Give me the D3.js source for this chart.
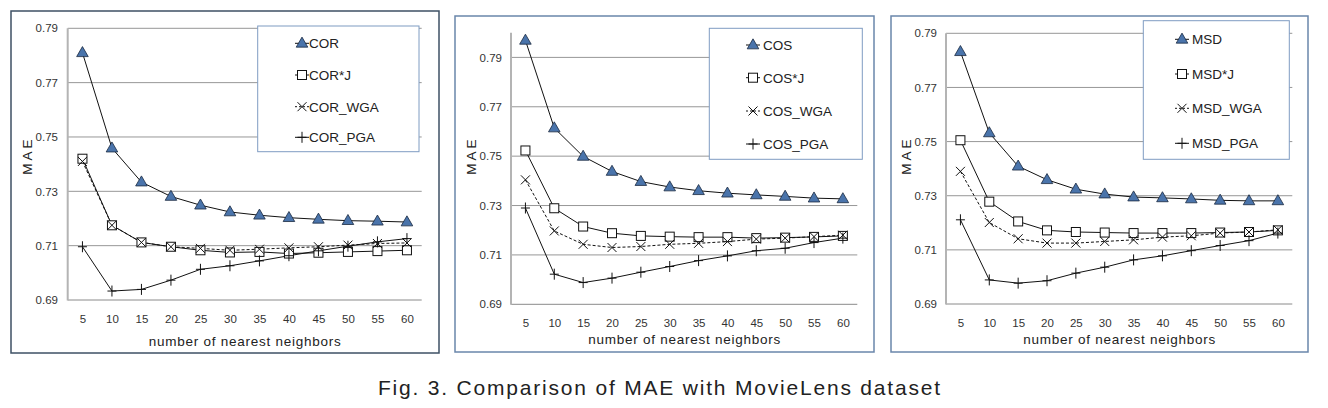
<!DOCTYPE html>
<html><head><meta charset="utf-8">
<script src="https://cdn.jsdelivr.net/npm/d3@7"></script>
<style>
html,body{margin:0;padding:0;background:#fff;}
svg{display:block;}
text{font-family:"Liberation Sans",Arial,sans-serif;}
</style></head>
<body><svg id="c" width="1328" height="408"></svg>
<script>
// ---------- data ----------
const neighbors = [5,10,15,20,25,30,35,40,45,50,55,60];
const yTickValues = [0.69,0.71,0.73,0.75,0.77,0.79];
const xAxisTitle = "number of nearest neighbors";
const yAxisTitle = "M A E";
const caption = "Fig. 3. Comparison of MAE with MovieLens dataset";

const corNames = ["COR","COR*J","COR_WGA","COR_PGA"];
const corValues    = [0.7810,0.7459,0.7334,0.7281,0.7249,0.7224,0.7212,0.7203,0.7197,0.7192,0.7190,0.7187];
const corJValues   = [0.7420,0.7175,0.7112,0.7096,0.7083,0.7075,0.7077,0.7071,0.7074,0.7077,0.7080,0.7083];
const corWgaValues = [0.7410,0.7175,0.7112,0.7096,0.7090,0.7083,0.7087,0.7092,0.7096,0.7102,0.7108,0.7110];
const corPgaValues = [0.7096,0.6933,0.6939,0.6973,0.7013,0.7026,0.7044,0.7063,0.7081,0.7098,0.7114,0.7126];

const cosNames = ["COS","COS*J","COS_WGA","COS_PGA"];
const cosValues    = [0.7969,0.7614,0.7499,0.7438,0.7397,0.7375,0.7360,0.7350,0.7343,0.7337,0.7330,0.7327];
const cosJValues   = [0.7523,0.7289,0.7215,0.7188,0.7177,0.7174,0.7172,0.7172,0.7168,0.7170,0.7173,0.7177];
const cosWgaValues = [0.7404,0.7197,0.7143,0.7130,0.7134,0.7143,0.7147,0.7154,0.7164,0.7168,0.7174,0.7180];
const cosPgaValues = [0.7290,0.7022,0.6988,0.7006,0.7030,0.7053,0.7077,0.7096,0.7117,0.7127,0.7150,0.7168];

const msdNames = ["MSD","MSD*J","MSD_WGA","MSD_PGA"];
const msdValues    = [0.7832,0.7532,0.7409,0.7359,0.7324,0.7306,0.7295,0.7292,0.7288,0.7283,0.7281,0.7281];
const msdJValues   = [0.7505,0.7278,0.7205,0.7172,0.7166,0.7164,0.7162,0.7162,0.7162,0.7164,0.7166,0.7172];
const msdWgaValues = [0.7390,0.7201,0.7141,0.7125,0.7125,0.7131,0.7137,0.7147,0.7152,0.7162,0.7166,0.7174];
const msdPgaValues = [0.7211,0.6989,0.6977,0.6986,0.7014,0.7036,0.7063,0.7078,0.7097,0.7116,0.7134,0.7162];

// ---------- layout ----------
const panels = [
  {names:corNames, series:[corValues,corJValues,corWgaValues,corPgaValues], yMax:0.79,
   frame:[11,11,439,353], frameColor:"#3e5064",
   plot:{l:67.7,r:421.7,top:28.3,bot:300},
   legend:{x0:257.7,x1:419,y0:26,y1:151.7,rows:[43.3,75,106.7,137.3],cx:302,tx:309},
   yLabelX:58, yTitleX:27, yTitleY:157, xTickY:323, xTitleY:346},
  {names:cosNames, series:[cosValues,cosJValues,cosWgaValues,cosPgaValues], yMax:0.80,
   frame:[455,16,874,352], frameColor:"#6a86ab",
   plot:{l:511,r:857.3,top:32.7,bot:304.3},
   legend:{x0:709.3,x1:862.3,y0:28.3,y1:159.3,rows:[45,77.7,111,144],cx:753,tx:763},
   yLabelX:502, yTitleX:471, yTitleY:157, xTickY:327, xTitleY:344},
  {names:msdNames, series:[msdValues,msdJValues,msdWgaValues,msdPgaValues], yMax:0.79,
   frame:[891,16,1308,352], frameColor:"#6a86ab",
   plot:{l:946,r:1292.3,top:33.3,bot:304},
   legend:{x0:1143.3,x1:1289.3,y0:20.7,y1:159.3,rows:[39.3,74,108.3,143.3],cx:1182,tx:1192},
   yLabelX:937, yTitleX:906, yTitleY:157, xTickY:327, xTitleY:344}
];

const svg = d3.select("#c");

function drawMarker(g, type, x, y){
  if(type===0){
    g.append("path").attr("d", d3.symbol(d3.symbolTriangle, 58)())
      .attr("transform",`translate(${x},${y+0.5})`)
      .attr("fill","#4a74ab").attr("stroke","#1a2a40").attr("stroke-width",0.8);
  } else if(type===1){
    g.append("rect").attr("x",x-4.5).attr("y",y-4.5).attr("width",9).attr("height",9)
      .attr("fill","#fff").attr("stroke","#111").attr("stroke-width",1);
  } else if(type===2){
    const s=4.5;
    g.append("path").attr("d",`M${x-s},${y-s}L${x+s},${y+s}M${x-s},${y+s}L${x+s},${y-s}`)
      .attr("stroke","#111").attr("stroke-width",1).attr("fill","none");
  } else {
    g.append("path").attr("d",`M${x-4.5},${y}L${x+4.5},${y}M${x},${y-5.5}L${x},${y+5.5}`)
      .attr("stroke","#111").attr("stroke-width",1).attr("fill","none");
  }
}

panels.forEach(p=>{
  const g = svg.append("g");
  const [fx0,fy0,fx1,fy1] = p.frame;
  g.append("rect").attr("x",fx0).attr("y",fy0).attr("width",fx1-fx0).attr("height",fy1-fy0)
    .attr("fill","#fff").attr("stroke",p.frameColor).attr("stroke-width",1.5);

  const x = d3.scalePoint().domain(neighbors).range([p.plot.l,p.plot.r]).padding(0.5);
  const y = d3.scaleLinear().domain([0.69,p.yMax]).range([p.plot.bot,p.plot.top]);

  // gridlines
  g.append("g").selectAll("line").data(yTickValues).join("line")
    .attr("x1",p.plot.l).attr("x2",p.plot.r)
    .attr("y1",d=>y(d)).attr("y2",d=>y(d))
    .attr("stroke",(d,i)=>i===0?"#8a8a8a":"#979797").attr("stroke-width",1);

  // y axis line
  g.append("line").attr("x1",p.plot.l).attr("x2",p.plot.l)
    .attr("y1",y(p.yMax)).attr("y2",y(0.69)+0.5)
    .attr("stroke","#b4b4b4").attr("stroke-width",2);

  // y tick labels
  const yAxis = d3.axisLeft(y).tickValues(yTickValues).tickFormat(d3.format(".2f")).tickSize(0).tickPadding(0);
  const ya = g.append("g").attr("transform",`translate(${p.yLabelX},0)`).call(yAxis);
  ya.select(".domain").remove();
  ya.selectAll("text").attr("font-size",11.5).attr("fill","#333").attr("font-family","Liberation Sans, Arial, sans-serif");

  // x tick labels
  const xAxis = d3.axisBottom(x).tickSize(0).tickPadding(0);
  const xa = g.append("g").attr("transform",`translate(0,${p.xTickY-9})`).call(xAxis);
  xa.select(".domain").remove();
  xa.selectAll("text").attr("dy",0).attr("y",9).attr("font-size",11.5).attr("fill","#333").attr("font-family","Liberation Sans, Arial, sans-serif");

  // axis titles
  g.append("text").attr("x",(p.plot.l+p.plot.r)/2).attr("y",p.xTitleY)
    .attr("text-anchor","middle").attr("font-size",13.5).attr("fill","#222")
    .attr("textLength",192).attr("lengthAdjust","spacing").text(xAxisTitle);
  g.append("text").attr("transform",`translate(${p.yTitleX},${p.yTitleY}) rotate(-90)`)
    .attr("text-anchor","middle").attr("dy","0.35em").attr("font-size",13.5).attr("fill","#222")
    .text(yAxisTitle);

  // lines
  const line = d3.line().x((d,i)=>x(neighbors[i])).y(d=>y(d));
  p.series.forEach((vals,si)=>{
    g.append("path").attr("d",line(vals)).attr("fill","none")
      .attr("stroke","#111").attr("stroke-width",1)
      .attr("stroke-dasharray", si===2?"3,2":null);
  });
  // markers
  p.series.forEach((vals,si)=>{
    const mg = g.append("g");
    vals.forEach((v,i)=>drawMarker(mg, si, x(neighbors[i]), y(v)));
  });

  // legend
  const L = p.legend;
  g.append("rect").attr("x",L.x0).attr("y",L.y0).attr("width",L.x1-L.x0).attr("height",L.y1-L.y0)
    .attr("fill","#fff").attr("stroke","#7f9cc2").attr("stroke-width",1);
  p.names.forEach((nm,si)=>{
    const ry = L.rows[si];
    g.append("line").attr("x1",L.cx-7).attr("x2",L.cx+7).attr("y1",ry).attr("y2",ry)
      .attr("stroke","#111").attr("stroke-width",1).attr("stroke-dasharray",si===2?"2,2":null);
    drawMarker(g, si, L.cx, ry);
    g.append("text").attr("x",L.tx).attr("y",ry).attr("dy","0.36em")
      .attr("font-size",13.5).attr("fill","#222").text(nm);
  });
});

svg.append("text").attr("x",378).attr("y",395).attr("font-size",21).attr("fill","#222")
  .attr("textLength",562).attr("lengthAdjust","spacing").text(caption);
</script></body></html>
